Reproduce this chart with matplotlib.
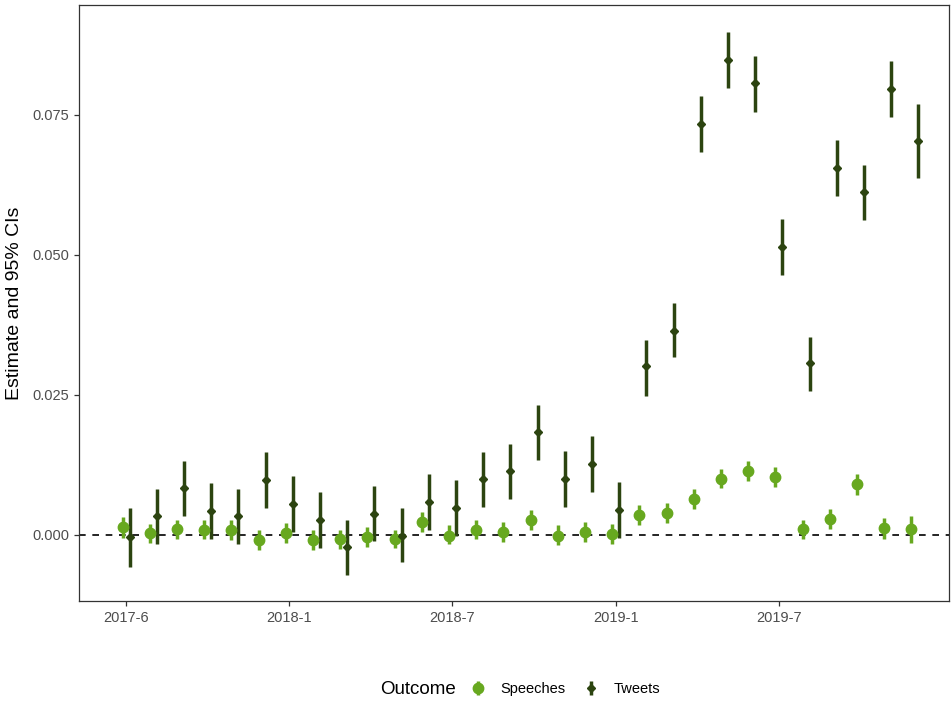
import numpy as np
import matplotlib.pyplot as plt

plt.rcParams['font.family'] = ['Liberation Sans', 'DejaVu Sans']

# monthly estimates with 95% CI bounds
speech_est = [0.0014, 0.0003, 0.0010, 0.0009, 0.0008, -0.0009, 0.0004, -0.0009, -0.0008, -0.0004,
              -0.0007, 0.0024, -0.0001, 0.0009, 0.0005, 0.0026, -0.0001, 0.0005, 0.0001, 0.0035,
              0.0039, 0.0064, 0.0100, 0.0114, 0.0104, 0.0010, 0.0029, 0.0091, 0.0013, 0.0011]
speech_lo = [-0.0006, -0.0014, -0.0008, -0.0008, -0.0009, -0.0026, -0.0014, -0.0026, -0.0025, -0.0021,
             -0.0024, 0.0006, -0.0017, -0.0008, -0.0013, 0.0008, -0.0018, -0.0013, -0.0016, 0.0017,
             0.0021, 0.0046, 0.0083, 0.0096, 0.0086, -0.0008, 0.0011, 0.0072, -0.0007, -0.0014]
speech_hi = [0.0032, 0.0020, 0.0027, 0.0026, 0.0026, 0.0008, 0.0021, 0.0008, 0.0009, 0.0014,
             0.0009, 0.0041, 0.0017, 0.0027, 0.0023, 0.0044, 0.0017, 0.0023, 0.0019, 0.0053,
             0.0057, 0.0082, 0.0118, 0.0132, 0.0122, 0.0027, 0.0047, 0.0108, 0.0030, 0.0034]

tweet_est = [-0.0004, 0.0033, 0.0083, 0.0043, 0.0033, 0.0098, 0.0055, 0.0027, -0.0022, 0.0038,
             -0.0001, 0.0059, 0.0049, 0.0100, 0.0114, 0.0183, 0.0100, 0.0126, 0.0045, 0.0301,
             0.0365, 0.0733, 0.0848, 0.0807, 0.0515, 0.0307, 0.0655, 0.0612, 0.0796, 0.0704]
tweet_lo = [-0.0058, -0.0016, 0.0033, -0.0008, -0.0017, 0.0048, 0.0005, -0.0023, -0.0072, -0.0011,
            -0.0049, 0.0009, -0.0001, 0.0050, 0.0064, 0.0133, 0.0050, 0.0077, -0.0005, 0.0249,
            0.0317, 0.0683, 0.0798, 0.0756, 0.0465, 0.0257, 0.0606, 0.0562, 0.0746, 0.0637]
tweet_hi = [0.0048, 0.0082, 0.0132, 0.0092, 0.0082, 0.0148, 0.0105, 0.0077, 0.0026, 0.0088,
            0.0049, 0.0108, 0.0098, 0.0149, 0.0163, 0.0232, 0.0150, 0.0176, 0.0094, 0.0348,
            0.0414, 0.0783, 0.0898, 0.0856, 0.0564, 0.0354, 0.0705, 0.0660, 0.0846, 0.0770]

tick_pos = [0, 6, 12, 18, 24]
tick_labels = ['2017-6', '2018-1', '2018-7', '2019-1', '2019-7']

speech_col = '#67a81f'
tweet_col = '#2c4410'
dodge = 0.13

idx = np.arange(len(speech_est))
s_est = np.array(speech_est)
t_est = np.array(tweet_est)

fig = plt.figure(figsize=(9.52, 7.02), dpi=100)
ax = fig.add_axes([0.083, 0.1439, 0.914, 0.849])

ax.axhline(0, color='black', linestyle=(0, (4, 4)), linewidth=1.2, zorder=1)

ax.errorbar(idx - dodge, s_est,
            yerr=[s_est - np.array(speech_lo), np.array(speech_hi) - s_est],
            fmt='o', color=speech_col, ecolor=speech_col, elinewidth=2.5,
            markersize=7.5, capsize=0, zorder=3)
ax.errorbar(idx + dodge, t_est,
            yerr=[t_est - np.array(tweet_lo), np.array(tweet_hi) - t_est],
            fmt='D', color=tweet_col, ecolor=tweet_col, elinewidth=2.5,
            markersize=4, capsize=0, zorder=3)

ax.set_xlim(-1.73, 30.26)
ax.set_ylim(-0.011786, 0.09464)
ax.set_xticks(tick_pos)
ax.set_xticklabels(tick_labels)
ax.set_yticks([0, 0.025, 0.05, 0.075])
ax.set_yticklabels(['0.000', '0.025', '0.050', '0.075'])
ax.tick_params(axis='both', labelsize=10.5, labelcolor='#4d4d4d',
               color='#333333', length=3.5, width=0.9)
ax.set_ylabel('Estimate and 95% CIs', fontsize=14, labelpad=7)
for sp in ax.spines.values():
    sp.set_color('#333333')
    sp.set_linewidth(0.9)

# legend along the bottom, title to the left of the keys
fig.text(0.399, 0.0185, 'Outcome', fontsize=13.5, va='center', ha='left')
fig.legend([ax.containers[0], ax.containers[1]], ['Speeches', 'Tweets'],
           loc='center left', bbox_to_anchor=(0.4796, 0.0185), ncol=2,
           frameon=False, fontsize=10.5, handlelength=1.2, handletextpad=0.9,
           columnspacing=1.17)

fig.savefig('out.png', dpi=100)
